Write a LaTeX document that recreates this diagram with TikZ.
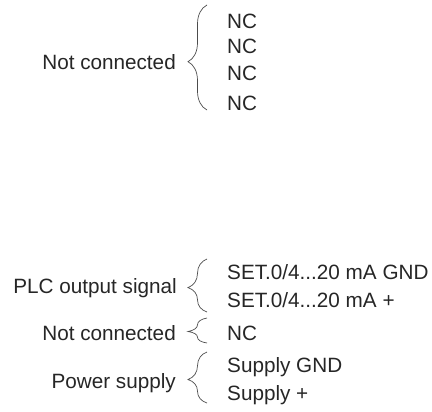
\documentclass[tikz,border=0pt]{standalone}
\usepackage{fontspec}
\setmainfont{Liberation Sans}
\usetikzlibrary{decorations.pathreplacing}
\begin{document}
\begin{tikzpicture}[x=1pt,y=-1pt,
  lbl/.style={inner sep=0pt, font=\fontsize{20.7}{24}\selectfont, text=black!85, anchor=base east},
  pinl/.style={inner sep=0pt, font=\fontsize{20.7}{24}\selectfont, text=black!85, anchor=base west},
  brc/.style={draw=black!70, line width=0.7pt, decorate, decoration={brace, amplitude=19pt, aspect=0.46}}]
\useasboundingbox (0,0) rectangle (432,412);
% top group
\coordinate (g1b) at (207,110);
\coordinate (g1t) at (207,5);
\draw[brc] (g1b) -- (g1t);
\node[lbl] (nc1lbl) at (176,69.5) {Not connected};
\node[pinl] (nc1) at (227,28.5) {NC};
\node[pinl] (nc2) at (227,53.5) {NC};
\node[pinl] (nc3) at (227,80.5) {NC};
\node[pinl] (nc4) at (227,110.5) {NC};
% PLC group
\coordinate (g2b) at (207,312);
\coordinate (g2t) at (207,259);
\draw[brc] (g2b) -- (g2t);
\node[lbl] (plc) at (177,293.5) {PLC output signal};
\node[pinl] (set1) at (227,279.5) {SET.0/4...20 mA GND};
\node[pinl] (set2) at (227,307.5) {SET.0/4...20 mA +};
% NC group
\coordinate (g3b) at (207,343);
\coordinate (g3t) at (207,318);
\draw[brc] (g3b) -- (g3t);
\node[lbl] (nc2lbl) at (176,340.5) {Not connected};
\node[pinl] (nc5) at (227,340.5) {NC};
% power group
\coordinate (g4b) at (207,403);
\coordinate (g4t) at (207,352);
\draw[brc] (g4b) -- (g4t);
\node[lbl] (pwr) at (176,388.5) {Power supply};
\node[pinl] (sup1) at (227,372.5) {Supply GND};
\node[pinl] (sup2) at (227,400.5) {Supply +};
\end{tikzpicture}
\end{document}
